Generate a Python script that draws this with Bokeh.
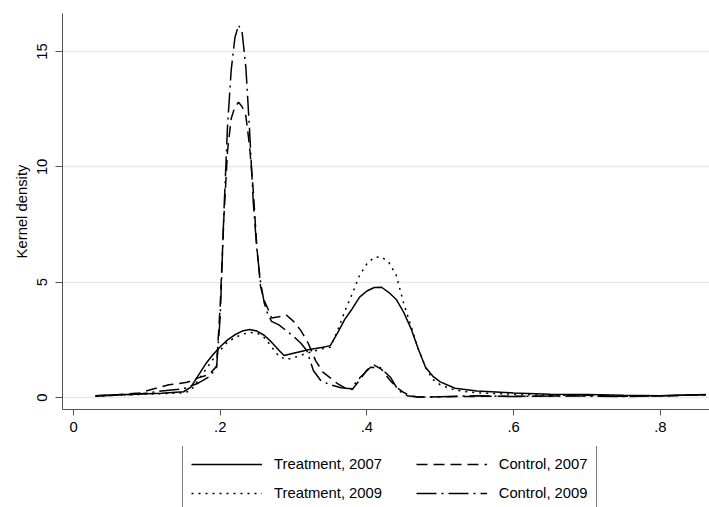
from bokeh.plotting import figure
from bokeh.models import Range1d, FixedTicker, Legend, LegendItem
from bokeh.embed import file_html
from bokeh.resources import INLINE

# ---------------- data ----------------
x_t07 = [0.03, 0.06, 0.09, 0.12, 0.15, 0.16, 0.17, 0.18, 0.19, 0.20, 0.21, 0.22, 0.23,
         0.24, 0.25, 0.26, 0.27, 0.28, 0.287, 0.30, 0.32, 0.34, 0.35, 0.36, 0.37, 0.38,
         0.39, 0.40, 0.41, 0.42, 0.43, 0.44, 0.45, 0.46, 0.47, 0.48, 0.49, 0.50, 0.52,
         0.55, 0.60, 0.65, 0.70, 0.75, 0.80, 0.862]
y_t07 = [0.08, 0.12, 0.15, 0.18, 0.25, 0.45, 0.95, 1.45, 1.85, 2.2, 2.5, 2.72, 2.88,
         2.95, 2.88, 2.7, 2.4, 2.05, 1.82, 1.92, 2.07, 2.18, 2.25, 2.8, 3.4, 3.85,
         4.35, 4.62, 4.77, 4.78, 4.55, 4.25, 3.7, 3.0, 2.1, 1.3, 0.92, 0.68, 0.4,
         0.28, 0.2, 0.14, 0.13, 0.1, 0.08, 0.13]

x_t09 = [0.03, 0.06, 0.09, 0.12, 0.15, 0.16, 0.17, 0.18, 0.19, 0.20, 0.21, 0.22, 0.23,
         0.24, 0.25, 0.26, 0.27, 0.28, 0.29, 0.30, 0.31, 0.32, 0.33, 0.34, 0.35, 0.36,
         0.37, 0.38, 0.39, 0.40, 0.41, 0.42, 0.43, 0.44, 0.45, 0.46, 0.47, 0.48, 0.49,
         0.50, 0.52, 0.55, 0.60, 0.65, 0.70, 0.75, 0.80, 0.862]
y_t09 = [0.05, 0.1, 0.13, 0.17, 0.2, 0.3, 0.75, 1.2, 1.65, 2.05, 2.4, 2.6, 2.74,
         2.82, 2.8, 2.6, 2.2, 1.78, 1.65, 1.72, 1.83, 1.94, 2.03, 2.12, 2.18, 2.9,
         3.75, 4.5, 5.3, 5.8, 6.08, 6.1, 5.85, 5.3, 4.1, 3.1, 2.1, 1.3, 0.78,
         0.55, 0.32, 0.2, 0.14, 0.1, 0.09, 0.07, 0.07, 0.12]

x_c07 = [0.03, 0.06, 0.09, 0.11, 0.13, 0.155, 0.17, 0.185, 0.195, 0.200, 0.205, 0.210,
         0.215, 0.220, 0.225, 0.230, 0.235, 0.240, 0.245, 0.250, 0.255, 0.260, 0.265,
         0.270, 0.280, 0.290, 0.300, 0.310, 0.320, 0.330, 0.340, 0.350, 0.360, 0.370,
         0.380, 0.390, 0.400, 0.410, 0.420, 0.430, 0.440, 0.450, 0.460, 0.470, 0.50,
         0.55, 0.60, 0.65, 0.70, 0.75, 0.80, 0.862]
y_c07 = [0.08, 0.12, 0.2, 0.38, 0.55, 0.66, 0.85, 1.0, 1.35, 4.0, 7.8, 10.7,
         12.1, 12.6, 12.8, 12.6, 12.2, 10.9, 9.0, 6.5, 4.8, 4.2, 3.85,
         3.45, 3.5, 3.58, 3.3, 2.9, 2.35, 1.6, 1.1, 0.85, 0.6, 0.42,
         0.35, 0.75, 1.2, 1.4, 1.22, 0.8, 0.45, 0.22, 0.06, 0.02, 0.03,
         0.05, 0.05, 0.06, 0.1, 0.05, 0.07, 0.12]

x_c09 = [0.03, 0.06, 0.09, 0.12, 0.15, 0.17, 0.185, 0.195, 0.200, 0.205, 0.210, 0.215,
         0.220, 0.225, 0.230, 0.235, 0.240, 0.245, 0.250, 0.255, 0.260, 0.265, 0.270,
         0.280, 0.290, 0.300, 0.310, 0.318, 0.327, 0.337, 0.350, 0.365, 0.378, 0.391,
         0.405, 0.418, 0.432, 0.443, 0.455, 0.470, 0.50, 0.55, 0.60, 0.65, 0.70, 0.75,
         0.80, 0.862]
y_c09 = [0.06, 0.1, 0.15, 0.28, 0.38, 0.62, 0.9, 1.3, 3.5, 8.0, 11.8, 14.2,
         15.6, 16.15, 15.8, 14.3, 11.6, 8.5, 6.4, 5.0, 4.1, 3.6, 3.3,
         3.15, 2.9, 2.65, 2.35, 2.04, 1.17, 0.74, 0.55, 0.42, 0.38, 0.88,
         1.31, 1.3, 0.88, 0.3, 0.08, 0.02, 0.03, 0.08, 0.04, 0.07, 0.06, 0.04,
         0.08, 0.12]

labels = ["Treatment, 2007", "Control, 2007", "Treatment, 2009", "Control, 2009"]
x_ticks = [0, 0.2, 0.4, 0.6, 0.8]
x_tick_labels = ["0", ".2", ".4", ".6", ".8"]
y_ticks = [0, 5, 10, 15]

# ---------------- styles ----------------
FONT = "Liberation Sans"
FS = "14.8px"
AX = "#555555"
LW = 1.5
styles = [dict(line_dash="solid"), dict(line_dash="11 6"),
          dict(line_dash="2 5"), dict(line_dash="20 5 2 5")]
series = [(x_t07, y_t07), (x_c07, y_c07), (x_t09, y_t09), (x_c09, y_c09)]

# ---------------- main plot ----------------
p = figure(width=709, height=446, output_backend="svg", toolbar_location=None,
           x_range=Range1d(-0.015, 0.867), y_range=Range1d(-0.52, 16.65),
           min_border_left=62, min_border_right=0, min_border_top=13,
           min_border_bottom=37)
p.outline_line_color = None
p.background_fill_color = "white"
p.border_fill_color = "white"

p.xgrid.grid_line_color = None
p.ygrid.grid_line_color = "#e8e8e8"
p.ygrid.grid_line_width = 1.5
p.ygrid.ticker = FixedTicker(ticks=y_ticks)

p.xaxis.ticker = FixedTicker(ticks=x_ticks)
p.xaxis.major_label_overrides = {t: s for t, s in zip(x_ticks, x_tick_labels)}
p.yaxis.ticker = FixedTicker(ticks=y_ticks)
p.yaxis.major_label_orientation = "vertical"
p.yaxis.axis_label = "Kernel density"

for ax in (p.xaxis[0], p.yaxis[0]):
    ax.axis_line_color = AX
    ax.major_tick_line_color = AX
    ax.minor_tick_line_color = None
    ax.major_tick_in = 0
    ax.major_label_text_font = FONT
    ax.major_label_text_font_size = FS
    ax.major_label_text_color = "black"
    ax.axis_label_text_font = FONT
    ax.axis_label_text_font_size = FS
    ax.axis_label_text_font_style = "normal"
    ax.axis_label_text_color = "black"
p.xaxis.major_tick_out = 6
p.yaxis.major_tick_out = 7
p.xaxis.major_label_standoff = 6
p.yaxis.major_label_standoff = 8
p.yaxis.axis_label_standoff = 5

for (xs, ys), st in zip(series, styles):
    p.line(xs, ys, line_color="black", line_width=LW, **st)

# ---------------- legend strip (cut off at the window bottom) ----------------
# same series, drawn out of this strip's visible range: only the legend shows
p2 = figure(width=709, height=61, output_backend="svg", toolbar_location=None,
            x_axis_type=None, y_axis_type=None,
            x_range=Range1d(0, 1), y_range=Range1d(100, 101),
            min_border_left=0, min_border_right=0, min_border_top=0,
            min_border_bottom=0)
p2.outline_line_color = None
p2.background_fill_color = "white"
p2.border_fill_color = "white"
p2.grid.visible = False

pad = "\u00a0" * 6
items = []
for i, ((xs, ys), lab, st) in enumerate(zip(series, labels, styles)):
    r = p2.line(xs, ys, line_color="black", line_width=LW, **st)
    items.append(LegendItem(label=lab + (pad if i % 2 == 0 else ""), renderers=[r]))

legend = Legend(items=items, orientation="horizontal", ncols=2,
                location=(182, -5),
                padding=8, spacing=9, margin=0,
                glyph_width=71, glyph_height=20, label_height=20,
                label_standoff=12,
                label_text_font=FONT, label_text_font_size=FS,
                label_text_color="black",
                border_line_color="black", border_line_width=1,
                background_fill_color="white", background_fill_alpha=1)
p2.add_layout(legend, "center")

open("out.html", "w").write(file_html([p, p2], INLINE))
